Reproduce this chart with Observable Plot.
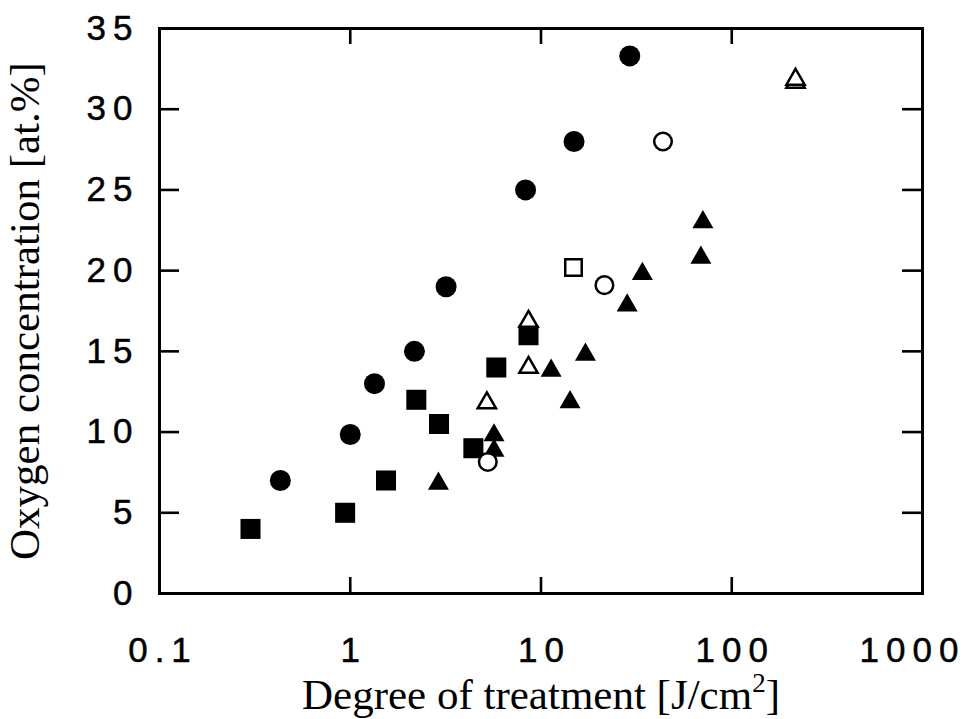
<!DOCTYPE html>
<html><head><meta charset="utf-8">
<script src="https://cdn.jsdelivr.net/npm/d3@7"></script>
<script src="https://cdn.jsdelivr.net/npm/@observablehq/plot@0.6"></script>
<style>
html,body{margin:0;padding:0;background:#fff;}
#chart svg{display:block;}
</style></head><body><div id="chart"></div>
<script>
// ---- data ----
const xTitleMain = "Degree of treatment [J/cm";
const xTitleSup = "2";
const xTitleEnd = "]";
const yTitle = "Oxygen concentration [at.%]";
const xTickValues = [0.1, 1, 10, 100, 1000];
const xTickLabels = ["0.1", "1", "10", "100", "1000"];
const yTickValues = [0, 5, 10, 15, 20, 25, 30, 35];
const xInnerTicks = [1, 10, 100];
const yInnerTicks = [5, 10, 15, 20, 25, 30];

const filledCircleX = [0.43, 1.0, 1.34, 2.17, 3.18, 8.3, 14.9, 29.2];
const filledCircleY = [7.0, 9.85, 13.0, 15.0, 19.0, 25.0, 28.0, 33.3];
const filledSquareX = [0.3, 0.94, 1.54, 2.22, 2.92, 4.42, 5.83, 8.6];
const filledSquareY = [4.0, 5.0, 7.0, 12.0, 10.5, 9.0, 14.0, 16.0];
const filledTriangleX = [2.9, 5.67, 5.67, 11.3, 14.2, 17.1, 28.3, 34.0, 68.9, 70.6];
const filledTriangleY = [6.8, 9.8, 8.85, 13.8, 11.85, 14.8, 17.85, 19.8, 20.8, 23.0];
const openCircleX = [5.26, 21.5, 43.6];
const openCircleY = [8.15, 19.1, 28.0];
const openSquareX = [14.8];
const openSquareY = [20.2];
const openTriangleX = [5.2, 8.6, 8.6, 216, 216];
const openTriangleY = [11.8, 14.0, 16.85, 31.65, 31.85];

const rows = (xs, ys) => xs.map((x, i) => ({x, y: ys[i]}));

// ---- layout ----
const W = 970, H = 719, mL = 159, mR = 48, mT = 28, mB = 126;
const plotW = W - mL - mR, plotH = H - mT - mB;
const sans = "'Liberation Sans', Arial, Helvetica, sans-serif";
const serif = "'Liberation Serif', 'Times New Roman', Times, serif";
const fmtX = d => xTickLabels[xTickValues.indexOf(d)];
const xTitleFull = xTitleMain + xTitleSup + xTitleEnd;

const chart = Plot.plot({
  width: W, height: H,
  marginLeft: mL, marginRight: mR, marginTop: mT, marginBottom: mB,
  style: {background: "#fff", color: "#000", overflow: "visible"},
  x: {type: "log", domain: [0.1, 1000]},
  y: {domain: [0, 35]},
  marks: [
    Plot.tickY(yInnerTicks, {y: d => d, insetRight: plotW - 20, stroke: "#000", strokeWidth: 2.6}),
    Plot.tickY(yInnerTicks, {y: d => d, insetLeft: plotW - 20, stroke: "#000", strokeWidth: 2.6}),
    Plot.tickX(xInnerTicks, {x: d => d, insetTop: plotH - 16, stroke: "#000", strokeWidth: 2.6}),
    Plot.tickX(xInnerTicks, {x: d => d, insetBottom: plotH - 16, stroke: "#000", strokeWidth: 2.6}),
    Plot.frame({stroke: "#000", strokeWidth: 3}),
    Plot.axisY(yTickValues, {anchor: "left", label: null, tickSize: 0, tickPadding: 20, fontSize: 35, fontFamily: sans, tickFormat: d => String(d)}),
    Plot.axisX(xTickValues.slice(0, 4), {anchor: "bottom", label: null, tickSize: 0, tickPadding: 44, fontSize: 35, fontFamily: sans, tickFormat: fmtX, dx: 3.5}),
    Plot.axisX(xTickValues.slice(4), {anchor: "bottom", label: null, tickSize: 0, tickPadding: 44, fontSize: 35, fontFamily: sans, tickFormat: fmtX, dx: -10}),
    Plot.text([xTitleFull], {frameAnchor: "bottom", textAnchor: "middle", dy: 115, lineAnchor: "bottom", fontSize: 43, fontFamily: serif, fill: "#000"}),
    Plot.text([yTitle], {frameAnchor: "left", textAnchor: "middle", dx: 38 - mL, rotate: -90, lineAnchor: "bottom", fontSize: 43, fontFamily: serif, fill: "#000"}),
    Plot.dot(rows(filledCircleX, filledCircleY), {x: "x", y: "y", symbol: "circle", r: 10.5, fill: "#000"}),
    Plot.dot(rows(filledSquareX, filledSquareY), {x: "x", y: "y", symbol: "square", r: 11.3, fill: "#000"}),
    Plot.dot(rows(filledTriangleX, filledTriangleY), {x: "x", y: "y", symbol: "triangle", r: 7.8, fill: "#000"}),
    Plot.dot(rows(openCircleX, openCircleY), {x: "x", y: "y", symbol: "circle", r: 8.8, fill: "#fff", stroke: "#000", strokeWidth: 2.5}),
    Plot.dot(rows(openSquareX, openSquareY), {x: "x", y: "y", symbol: "square", r: 9.3, fill: "#fff", stroke: "#000", strokeWidth: 2.5}),
    Plot.dot(rows(openTriangleX, openTriangleY), {x: "x", y: "y", symbol: "triangle", r: 6.8, fill: "#fff", stroke: "#000", strokeWidth: 2.5})
  ]
});
const svg = d3.select(chart);
svg.selectAll("g[aria-label$='tick label'] text")
  .attr("letter-spacing", 7).attr("stroke", "#000").attr("stroke-width", 0.5);
// raise the superscript in the x title
svg.selectAll("text").filter(function () { return this.textContent === xTitleFull; }).each(function () {
  const t = d3.select(this);
  t.text(null);
  t.append("tspan").text(xTitleMain);
  t.append("tspan").attr("dy", -17).attr("font-size", 27).text(xTitleSup);
  t.append("tspan").attr("dy", 17).text(xTitleEnd);
});
document.getElementById("chart").appendChild(chart);
</script>
</body></html>
